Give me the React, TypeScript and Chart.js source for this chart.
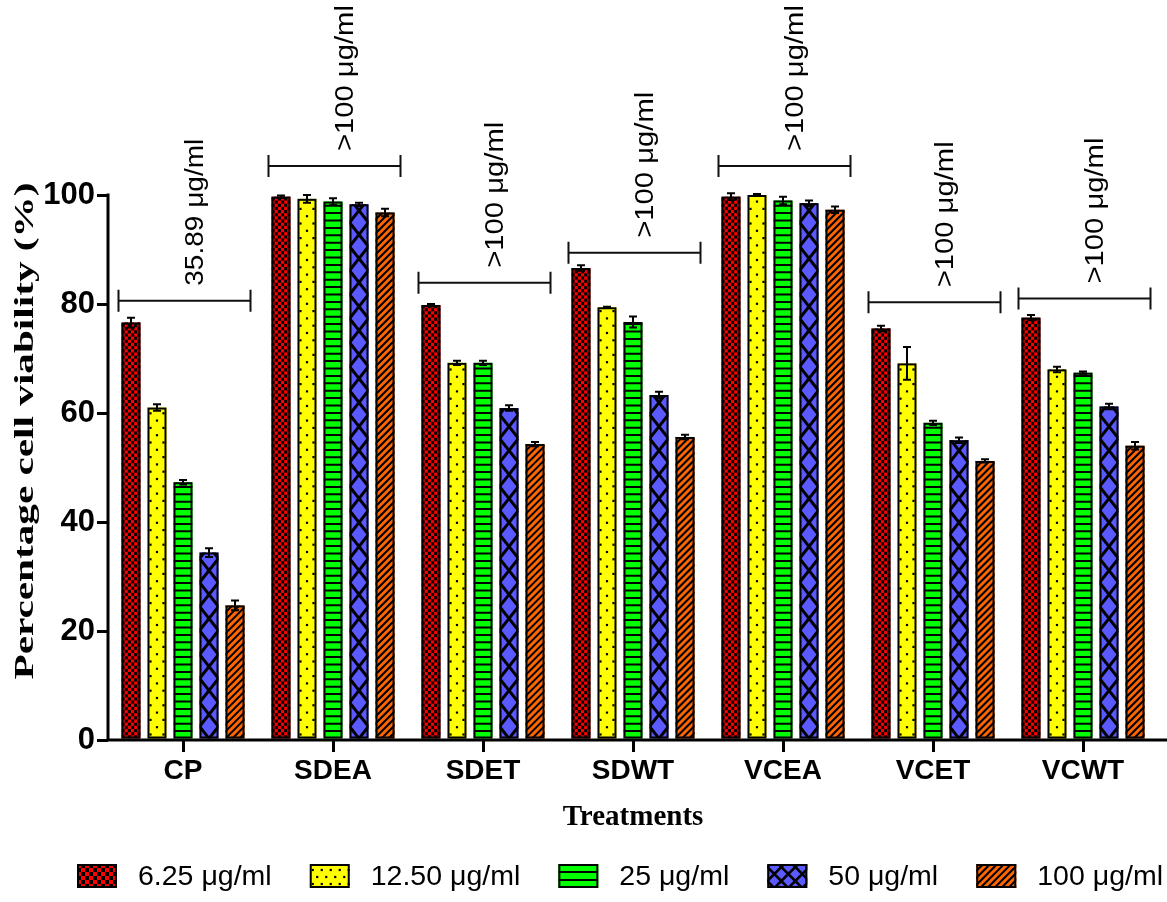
import React, { useEffect, useRef } from "react";
import { Chart, registerables } from "chart.js";

Chart.register(...registerables);

const categories = ["CP", "SDEA", "SDET", "SDWT", "VCEA", "VCET", "VCWT"];
const seriesLabels = ["6.25 μg/ml", "12.50 μg/ml", "25 μg/ml", "50 μg/ml", "100 μg/ml"];

const v625 = [76.6, 99.7, 79.8, 86.6, 99.7, 75.5, 77.5];
const v1250 = [61.0, 99.3, 69.2, 79.4, 100.0, 69.1, 68.0];
const v25 = [47.3, 98.8, 69.2, 76.7, 99.0, 58.2, 67.4];
const v50 = [34.4, 98.3, 60.9, 63.3, 98.5, 55.0, 61.2];
const v100 = [24.7, 96.8, 54.3, 55.6, 97.3, 51.2, 54.0];

const e625 = [0.9, 0.2, 0.2, 0.5, 0.6, 0.5, 0.5];
const e1250 = [0.6, 0.7, 0.4, 0.1, 0.2, 3.0, 0.5];
const e25 = [0.4, 0.6, 0.4, 1.0, 0.7, 0.4, 0.2];
const e50 = [0.8, 0.3, 0.5, 0.6, 0.5, 0.5, 0.5];
const e100 = [0.9, 0.7, 0.4, 0.4, 0.6, 0.3, 0.7];

const ic50Labels = ["35.89 μg/ml", ">100 μg/ml", ">100 μg/ml", ">100 μg/ml", ">100 μg/ml", ">100 μg/ml", ">100 μg/ml"];
const bracketLevels = [80.6, 105.3, 83.9, 89.4, 105.3, 80.3, 81.0];

const yTicks = [0, 20, 40, 60, 80, 100];
const yTitle = "Percentage cell viability (%)";
const xTitle = "Treatments";

const seriesValues = [v625, v1250, v25, v50, v100];
const seriesErrors = [e625, e1250, e25, e50, e100];
const COLORS = ["#ff0000", "#ffff00", "#00ff00", "#5a5aff", "#ff6600"];
const KINDS = ["check", "dots", "hlines", "xhatch", "diag"];

function drawPattern(ctx: CanvasRenderingContext2D, kind: string, l: number, t: number, w: number, h: number, legend: boolean) {
  const r = l + w;
  const b = t + h;
  ctx.save();
  ctx.beginPath();
  ctx.rect(l, t, w, h);
  ctx.clip();
  ctx.fillStyle = "#000";
  ctx.strokeStyle = "#000";
  if (kind === "check") {
    const s = legend ? 4 : w / 6;
    for (let i = 0; b - i * s > t - s; i++) {
      for (let j = 0; l + j * s < r; j++) {
        if ((i + j) % 2 === 0) ctx.fillRect(l + j * s, b - (i + 1) * s, s, s);
      }
    }
  } else if (kind === "dots") {
    const px = legend ? 9 : w - 6;
    const py = legend ? 7 : 7.3;
    const d = 2.2;
    for (let i = 0; b - i * py > t - py; i++) {
      const off = i % 2 === 0 ? 3 : 3 + px / 2;
      for (let x = l + off; x < r; x += px) {
        ctx.fillRect(x - d / 2, b - 4 - i * py - d / 2, d, d);
      }
    }
  } else if (kind === "hlines") {
    const p = legend ? 8 : 7.4;
    ctx.lineWidth = 2;
    for (let y = b - p; y > t; y -= p) {
      ctx.beginPath();
      ctx.moveTo(l, y);
      ctx.lineTo(r, y);
      ctx.stroke();
    }
  } else if (kind === "xhatch") {
    const cw = legend ? 14 : w;
    const P = legend ? 14 : 24;
    ctx.lineWidth = legend ? 2.5 : 3;
    for (let cl = l; cl < r; cl += cw) {
      for (let yk = b + P; yk > t - P; yk -= P) {
        ctx.beginPath();
        ctx.moveTo(cl, yk + P / 2);
        ctx.lineTo(cl + cw, yk - P / 2);
        ctx.moveTo(cl, yk - P / 2);
        ctx.lineTo(cl + cw, yk + P / 2);
        ctx.stroke();
      }
    }
  } else if (kind === "diag") {
    const sp = 7;
    ctx.lineWidth = 2;
    for (let x = l - h - sp; x < r + sp; x += sp) {
      ctx.beginPath();
      ctx.moveTo(x, b);
      ctx.lineTo(x + h, t);
      ctx.stroke();
    }
  }
  ctx.restore();
  ctx.save();
  ctx.lineWidth = 2;
  ctx.strokeStyle = "#000";
  ctx.strokeRect(l + 1, t + 1, w - 2, h - 2);
  ctx.restore();
}

const overlayPlugin = {
  id: "overlay",
  afterDatasetsDraw(chart: any) {
    const ctx: CanvasRenderingContext2D = chart.ctx;
    const yScale = chart.scales.y;
    const xScale = chart.scales.x;
    chart.data.datasets.forEach((ds: any, di: number) => {
      const meta = chart.getDatasetMeta(di);
      meta.data.forEach((el: any) => {
        const p = el.getProps(["x", "y", "base", "width"], true);
        const l = p.x - p.width / 2;
        const top = Math.min(p.y, p.base);
        const h = Math.abs(p.base - p.y);
        drawPattern(ctx, KINDS[di], l, top, p.width, h, false);
      });
    });
    chart.data.datasets.forEach((ds: any, di: number) => {
      const meta = chart.getDatasetMeta(di);
      meta.data.forEach((el: any, i: number) => {
        const p = el.getProps(["x"], true);
        const v = seriesValues[di][i];
        const e = seriesErrors[di][i];
        const y1 = yScale.getPixelForValue(v + e);
        const y2 = yScale.getPixelForValue(v - e);
        ctx.save();
        ctx.strokeStyle = "#000";
        ctx.lineWidth = 2;
        ctx.beginPath();
        ctx.moveTo(p.x, y1);
        ctx.lineTo(p.x, y2);
        ctx.moveTo(p.x - 4, y1);
        ctx.lineTo(p.x + 4, y1);
        ctx.moveTo(p.x - 4, y2);
        ctx.lineTo(p.x + 4, y2);
        ctx.stroke();
        ctx.restore();
      });
    });
    const y0 = yScale.getPixelForValue(0);
    const y100 = yScale.getPixelForValue(yTicks[yTicks.length - 1]);
    const ax = chart.chartArea.left;
    ctx.save();
    ctx.strokeStyle = "#000";
    ctx.lineWidth = 3;
    ctx.beginPath();
    ctx.moveTo(ax, y100 - 1.5);
    ctx.lineTo(ax, y0 + 1.5);
    ctx.moveTo(ax - 1.5, y0);
    ctx.lineTo(chart.width, y0);
    ctx.stroke();
    ctx.restore();
    const cw = xScale.getPixelForValue(1) - xScale.getPixelForValue(0);
    categories.forEach((c, i) => {
      const cx = xScale.getPixelForValue(i);
      const py = yScale.getPixelForValue(bracketLevels[i]);
      const l = cx - 0.43 * cw;
      const r = cx + 0.45 * cw;
      ctx.save();
      ctx.strokeStyle = "#111";
      ctx.lineWidth = 2;
      ctx.beginPath();
      ctx.moveTo(l, py);
      ctx.lineTo(r, py);
      ctx.moveTo(l, py - 11);
      ctx.lineTo(l, py + 11);
      ctx.moveTo(r, py - 11);
      ctx.lineTo(r, py + 11);
      ctx.stroke();
      ctx.translate((l + r) / 2 + 12, py - 15);
      ctx.rotate(-Math.PI / 2);
      ctx.font = '25px "Liberation Sans", Arial, sans-serif';
      const tw = ctx.measureText(ic50Labels[i]).width;
      const target = ic50Labels[i].startsWith(">") ? 146 : 147;
      ctx.scale(target / tw, 1);
      ctx.fillStyle = "#000";
      ctx.textAlign = "left";
      ctx.textBaseline = "middle";
      ctx.fillText(ic50Labels[i], 0, 0);
      ctx.restore();
    });
  },
  afterDraw(chart: any) {
    const ctx: CanvasRenderingContext2D = chart.ctx;
    ctx.save();
    ctx.font = 'bold 27px "Liberation Serif", "Times New Roman", serif';
    const tw = ctx.measureText(yTitle).width;
    ctx.translate(26, 431);
    ctx.rotate(-Math.PI / 2);
    ctx.scale(497 / tw, 1);
    ctx.fillStyle = "#000";
    ctx.textAlign = "center";
    ctx.textBaseline = "middle";
    ctx.fillText(yTitle, 0, 0);
    ctx.restore();
    ctx.save();
    ctx.font = '28.5px "Liberation Sans", Arial, sans-serif';
    const boxW = 40;
    const boxH = 24;
    const gapText = 21;
    const widths = seriesLabels.map((s) => boxW + gapText + ctx.measureText(s).width);
    const x0 = 77;
    const x1 = 1163;
    const total = widths.reduce((a, b) => a + b, 0);
    const gap = (x1 - x0 - total) / (seriesLabels.length - 1);
    let x = x0;
    const cy = 876;
    seriesLabels.forEach((s, i) => {
      ctx.fillStyle = COLORS[i];
      ctx.fillRect(x, cy - boxH / 2, boxW, boxH);
      drawPattern(ctx, KINDS[i], x, cy - boxH / 2, boxW, boxH, true);
      ctx.fillStyle = "#000";
      ctx.textAlign = "left";
      ctx.textBaseline = "middle";
      ctx.fillText(s, x + boxW + gapText, cy + 1);
      x += widths[i] + gap;
    });
    ctx.restore();
  },
};

export default function App() {
  const ref = useRef<HTMLCanvasElement | null>(null);
  useEffect(() => {
    if (!ref.current) return;
    Chart.defaults.font.family = '"Liberation Sans", Arial, sans-serif';
    const chart = new Chart(ref.current, {
      type: "bar",
      data: {
        labels: categories,
        datasets: seriesLabels.map((lab, i) => ({
          label: lab,
          data: seriesValues[i],
          backgroundColor: COLORS[i],
          borderWidth: 0,
          categoryPercentage: 0.867,
          barPercentage: 0.73,
        })),
      },
      options: {
        animation: false,
        responsive: false,
        layout: { padding: { left: 0, right: 9, top: 0, bottom: 0 } },
        plugins: { legend: { display: false }, tooltip: { enabled: false } },
        scales: {
          x: {
            grid: {
              display: true,
              drawOnChartArea: false,
              drawTicks: true,
              offset: false,
              color: "#000",
              lineWidth: 3,
              tickLength: 12,
            },
            border: { display: false },
            ticks: {
              color: "#000",
              font: { size: 28, weight: "bold" },
              padding: 2,
              maxRotation: 0,
              autoSkip: false,
            },
            title: {
              display: true,
              text: xTitle,
              color: "#000",
              font: { size: 29, weight: "bold", family: '"Liberation Serif", "Times New Roman", serif' },
              padding: { top: 0, bottom: 67 },
            },
            afterFit: (s: any) => {
              s.height = 162;
              s.paddingLeft = 0;
              s.paddingRight = 0;
            },
          },
          y: {
            min: 0,
            max: 135.78,
            grid: {
              display: true,
              drawOnChartArea: false,
              drawTicks: true,
              color: "#000",
              lineWidth: 3,
              tickLength: 11,
            },
            border: { display: false },
            ticks: {
              color: "#000",
              font: { size: 31, weight: "bold" },
              padding: 2,
            },
            afterBuildTicks: (s: any) => {
              s.ticks = yTicks.map((v) => ({ value: v }));
            },
            afterFit: (s: any) => {
              s.width = 108;
              s.paddingTop = 0;
              s.paddingBottom = 0;
            },
          },
        },
      },
      plugins: [overlayPlugin],
    } as any);
    return () => chart.destroy();
  }, []);
  return (
    <div style={{ position: "fixed", left: 0, top: 0, width: 1167, height: 902, background: "#fff" }}>
      <canvas ref={ref} width={1167} height={902} />
    </div>
  );
}
